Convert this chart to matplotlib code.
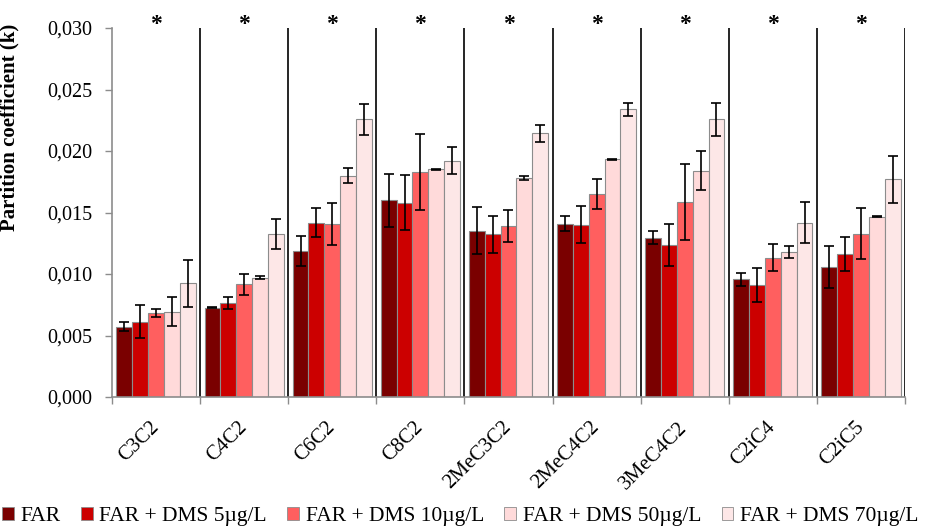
import numpy as np
import matplotlib
matplotlib.use('Agg')
import matplotlib.pyplot as plt
from matplotlib.patches import Patch
from matplotlib.ticker import FuncFormatter
from matplotlib.transforms import ScaledTranslation

plt.rcParams['font.family'] = ['Liberation Serif', 'DejaVu Serif']

categories = ['C3C2', 'C4C2', 'C6C2', 'C8C2', '2MeC3C2', '2MeC4C2', '3MeC4C2', 'C2iC4', 'C2iC5']
series = ['FAR', 'FAR + DMS 5µg/L', 'FAR + DMS 10µg/L', 'FAR + DMS 50µg/L', 'FAR + DMS 70µg/L']
colors = ['#7a0000', '#cc0000', '#ff5f5f', '#ffdada', '#fde7e7']

# mean values per series (one entry per category)
far    = [0.00572, 0.00726, 0.01187, 0.01599, 0.01352, 0.01407, 0.01295, 0.00957, 0.01054]
dms5   = [0.00612, 0.00762, 0.01417, 0.01580, 0.01323, 0.01401, 0.01238, 0.00913, 0.01160]
dms10  = [0.00686, 0.00916, 0.01407, 0.01832, 0.01393, 0.01653, 0.01585, 0.01133, 0.01328]
dms50  = [0.00694, 0.00970, 0.01799, 0.01851, 0.01780, 0.01932, 0.01840, 0.01181, 0.01466]
dms70  = [0.00924, 0.01322, 0.02258, 0.01921, 0.02144, 0.02339, 0.02258, 0.01417, 0.01770]

# standard deviations
far_sd   = [0.00034, 0.00005, 0.00123, 0.00218, 0.00193, 0.00061, 0.00054, 0.00054, 0.00171]
dms5_sd  = [0.00135, 0.00047, 0.00117, 0.00225, 0.00150, 0.00150, 0.00170, 0.00137, 0.00138]
dms10_sd = [0.00033, 0.00083, 0.00170, 0.00309, 0.00130, 0.00123, 0.00306, 0.00108, 0.00210]
dms50_sd = [0.00120, 0.00012, 0.00060, 0.00003, 0.00014, 0.00003, 0.00158, 0.00047, 0.00003]
dms70_sd = [0.00190, 0.00122, 0.00127, 0.00110, 0.00069, 0.00053, 0.00135, 0.00169, 0.00191]

means = [far, dms5, dms10, dms50, dms70]
sds = [far_sd, dms5_sd, dms10_sd, dms50_sd, dms70_sd]

fig = plt.figure(figsize=(9.26, 5.28), dpi=100)
ax = fig.add_axes([112/926, 1 - 397/528, (905 - 112)/926, (397 - 28)/528])

x = np.arange(len(categories))
w = 0.18
for k in range(5):
    pos = x + (k - 2) * w
    ax.bar(pos, means[k], width=w, color=colors[k], edgecolor='#8c8c8c',
           linewidth=0.8, zorder=2)
    ax.errorbar(pos, means[k], yerr=sds[k], fmt='none', ecolor='black',
                elinewidth=1.2, capsize=3.5, capthick=1.2, zorder=3)

# group separators
for b in np.arange(0.5, len(categories), 1.0):
    ax.axvline(b, color='black', linewidth=1.2, zorder=1)

# significance marks
for i in x:
    ax.text(i, 0.0303, '*', ha='center', va='center', fontsize=17,
            fontweight='bold', clip_on=False)

ax.set_xlim(-0.5, len(categories) - 0.5)
ax.set_ylim(0, 0.030)
ax.set_yticks(np.arange(0, 0.0301, 0.005))
ax.yaxis.set_major_formatter(FuncFormatter(lambda v, p: f'{v:.3f}'.replace('.', ',')))

ax.set_xticks(x)
ax.set_xticklabels(categories, rotation=45, ha='right', va='center',
                   rotation_mode='anchor')
shift = ScaledTranslation(8/72, 0, fig.dpi_scale_trans)
for lab in ax.get_xticklabels():
    lab.set_transform(lab.get_transform() + shift)
ax.set_xticks(np.arange(-0.5, len(categories), 1.0), minor=True)
ax.tick_params(axis='x', which='major', length=0, pad=20, labelsize=15)
ax.tick_params(axis='x', which='minor', length=5, color='#8c8c8c', width=1)
ax.tick_params(axis='y', length=5, color='#8c8c8c', width=1, labelsize=14.5, pad=9)

for s in ['top', 'right']:
    ax.spines[s].set_visible(False)
for s in ['left', 'bottom']:
    ax.spines[s].set_color('#8c8c8c')
    ax.spines[s].set_linewidth(1.2)

ax.set_ylabel('Partition coefficient (k)', fontsize=15, fontweight='bold')
ax.yaxis.set_label_coords(-0.117, 0.73)

handles = [Patch(facecolor=c, edgecolor='#8c8c8c', linewidth=0.6) for c in colors]
fig.legend(handles, series, loc='lower center', bbox_to_anchor=(0.497, -0.012),
           ncol=5, frameon=False, fontsize=15.5, handlelength=0.55,
           handleheight=0.55, handletextpad=0.3, columnspacing=0.95,
           borderaxespad=0)

fig.savefig('out.png', dpi=100)
